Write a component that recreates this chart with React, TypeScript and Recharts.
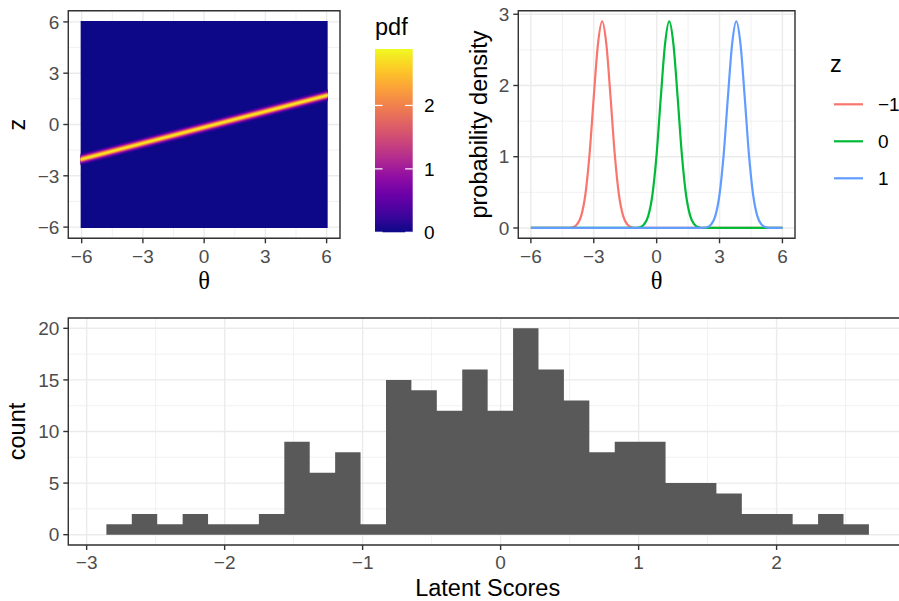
import React from 'react';
import { ComposedChart, Area, Line, XAxis, YAxis, CartesianGrid, ReferenceArea } from 'recharts';

const FONT = '"Liberation Sans", Arial, Helvetica, sans-serif';
const SERIF = '"Liberation Serif", "DejaVu Serif", serif';
const TICK_FS = 19;
const TITLE_FS = 23.5;
const GRID = '#EBEBEB';
const BORDER = '#333333';

// ---------- top left: pdf of z given theta ----------
const heatTicks = [-6, -3, 0, 3, 6];
const heatMinor = [-4.5, -1.5, 1.5, 4.5];
const rasterTheta = [-6.05, 6.05];
const rasterZ = [-6.05, 6.05];
const ridgeZ = [-2.04, 1.71]; // z of the density ridge at both ends of rasterTheta
const pdfBreaks = [0, 1, 2];
const pdfMax = 2.89;
const plasma = ['#0D0887', '#41049D', '#6A00A8', '#8F0DA4', '#B12A90', '#CC4778', '#E16462', '#F2844B', '#FCA636', '#FCCE25', '#F0F921'];

// shading of the ridge, outer to inner: half width in z, colour
const bandLayers = [
  { half: 0.35, color: '#2A0693' },
  { half: 0.28, color: '#5602A3' },
  { half: 0.222, color: '#8F0DA4' },
  { half: 0.18, color: '#BF3984' },
  { half: 0.144, color: '#E16462' },
  { half: 0.109, color: '#F89540' },
  { half: 0.073, color: '#FDC328' },
  { half: 0.04, color: '#F3EA24' },
];

// ---------- top right: density curves ----------
const densTicksX = [-6, -3, 0, 3, 6];
const densMinorX = [-4.5, -1.5, 1.5, 4.5];
const densTicksY = [0, 1, 2, 3];
const densMinorY = [0.5, 1.5, 2.5];
const zLevels = ['\u22121', '0', '1'];
const zColors = ['#F8766D', '#00BA38', '#619CFF'];

const thetaRed = [-6, -4.2, -4.0, -3.8, -3.6, -3.4, -3.2, -3.0, -2.8, -2.6, -2.4, -2.2, -2.0, -1.8, -1.6, -1.4, -1.2, -1.0, 6];
const densRed = [0, 0, 0.01, 0.05, 0.17, 0.47, 1.04, 1.84, 2.58, 2.9, 2.58, 1.84, 1.04, 0.47, 0.17, 0.05, 0.01, 0, 0];
const thetaGreen = [-6, -1.0, -0.8, -0.6, -0.4, -0.2, 0, 0.2, 0.4, 0.6, 0.8, 1.0, 1.2, 1.4, 1.6, 1.8, 2.0, 2.2, 6];
const densGreen = [0, 0, 0.01, 0.05, 0.17, 0.47, 1.04, 1.84, 2.58, 2.9, 2.58, 1.84, 1.04, 0.47, 0.17, 0.05, 0.01, 0, 0];
const thetaBlue = [-6, 2.2, 2.4, 2.6, 2.8, 3.0, 3.2, 3.4, 3.6, 3.8, 4.0, 4.2, 4.4, 4.6, 4.8, 5.0, 5.2, 5.4, 6];
const densBlue = [0, 0, 0.01, 0.05, 0.17, 0.47, 1.04, 1.84, 2.58, 2.9, 2.58, 1.84, 1.04, 0.47, 0.17, 0.05, 0.01, 0, 0];

// ---------- bottom: histogram of latent scores ----------
const histTicksX = [-3, -2, -1, 0, 1, 2];
const histMinorX = [-2.5, -1.5, -0.5, 0.5, 1.5, 2.5];
const histTicksY = [0, 5, 10, 15, 20];
const histMinorY = [2.5, 7.5, 12.5, 17.5];
const histStart = -2.857;
const histBinWidth = 0.1842;
const histCounts = [1, 2, 1, 2, 1, 1, 2, 9, 6, 8, 1, 15, 14, 12, 16, 12, 20, 16, 13, 8, 9, 9, 5, 5, 4, 2, 2, 1, 2, 1];

const fmt = (v: number) => (v < 0 ? `\u2212${Math.abs(v)}` : `${v}`);
const tickStyle = { fill: '#4D4D4D', fontSize: TICK_FS, fontFamily: FONT };
const tickLine = { stroke: BORDER, strokeWidth: 1.4 };

const HeatPanel = () => {
  const raster = rasterTheta.map((t) => ({ theta: t, band: [rasterZ[0], rasterZ[1]] }));
  const layers = bandLayers.map((l) =>
    rasterTheta.map((t, i) => ({ theta: t, band: [ridgeZ[i] - l.half, ridgeZ[i] + l.half] }))
  );
  const dom: [number, number] = [-6.655, 6.655];
  return (
    <ComposedChart width={345} height={300} margin={{ top: 10.7, right: 5, bottom: 11.7, left: 8.3 }}>
      <CartesianGrid stroke={GRID} strokeWidth={0.7} verticalValues={heatMinor} horizontalValues={heatMinor} />
      <CartesianGrid stroke={GRID} strokeWidth={1.4} />
      <XAxis type="number" dataKey="theta" domain={dom} allowDataOverflow ticks={heatTicks} interval={0}
        tickFormatter={fmt} height={50} tickSize={5} tickMargin={6} axisLine={false} tickLine={tickLine} tick={tickStyle} />
      <YAxis type="number" domain={dom} allowDataOverflow ticks={heatTicks} interval={0}
        tickFormatter={fmt} width={60} tickSize={5} tickMargin={4} axisLine={false} tickLine={tickLine} tick={tickStyle} />
      <Area data={raster} dataKey="band" type="linear" stroke="none" fill={plasma[0]} fillOpacity={1}
        isAnimationActive={false} dot={false} activeDot={false} />
      {layers.map((d, i) => (
        <Area key={i} data={d} dataKey="band" type="linear" stroke="none" fill={bandLayers[i].color} fillOpacity={1}
          isAnimationActive={false} dot={false} activeDot={false} />
      ))}
      <ReferenceArea x1={dom[0]} x2={dom[1]} y1={dom[0]} y2={dom[1]} fill="none" stroke={BORDER} strokeWidth={1.4} ifOverflow="visible" />
    </ComposedChart>
  );
};

const DensityPanel = () => {
  const series = [
    { t: thetaRed, d: densRed },
    { t: thetaGreen, d: densGreen },
    { t: thetaBlue, d: densBlue },
  ];
  return (
    <ComposedChart width={449} height={300} margin={{ top: 10.7, right: 104, bottom: 11.7, left: 8.3 }}>
      <CartesianGrid stroke={GRID} strokeWidth={0.7} verticalValues={densMinorX} horizontalValues={densMinorY} />
      <CartesianGrid stroke={GRID} strokeWidth={1.4} />
      <XAxis type="number" dataKey="theta" domain={[-6.6, 6.6]} allowDataOverflow ticks={densTicksX} interval={0}
        tickFormatter={fmt} height={50} tickSize={5} tickMargin={6} axisLine={false} tickLine={tickLine} tick={tickStyle} />
      <YAxis type="number" domain={[-0.145, 3.05]} allowDataOverflow ticks={densTicksY} interval={0}
        tickFormatter={fmt} width={60} tickSize={5} tickMargin={4} axisLine={false} tickLine={tickLine} tick={tickStyle} />
      {series.map((s, i) => (
        <Line key={i} data={s.t.map((t, j) => ({ theta: t, density: s.d[j] }))} dataKey="density" type="monotone"
          stroke={zColors[i]} strokeWidth={2.2} dot={false} activeDot={false} isAnimationActive={false} />
      ))}
      <ReferenceArea x1={-6.6} x2={6.6} y1={-0.145} y2={3.05} fill="none" stroke={BORDER} strokeWidth={1.4} ifOverflow="visible" />
    </ComposedChart>
  );
};

const HistPanel = () => {
  const data = histCounts.map((c, i) => ({ x: histStart + i * histBinWidth, count: c }));
  data.push({ x: histStart + histCounts.length * histBinWidth, count: histCounts[histCounts.length - 1] });
  return (
    <ComposedChart width={920} height={301} margin={{ top: 18, right: 13, bottom: 6, left: 8.3 }}>
      <CartesianGrid stroke={GRID} strokeWidth={0.7} verticalValues={histMinorX} horizontalValues={histMinorY} />
      <CartesianGrid stroke={GRID} strokeWidth={1.4} />
      <XAxis type="number" dataKey="x" domain={[-3.133, 2.945]} allowDataOverflow ticks={histTicksX} interval={0}
        tickFormatter={fmt} height={50} tickSize={5} tickMargin={6} axisLine={false} tickLine={tickLine} tick={tickStyle} />
      <YAxis type="number" domain={[-1, 21]} allowDataOverflow ticks={histTicksY} interval={0}
        tickFormatter={fmt} width={60} tickSize={5} tickMargin={4} axisLine={false} tickLine={tickLine} tick={tickStyle} />
      <Area data={data} dataKey="count" type="stepAfter" baseValue={0} stroke="none" fill="#595959" fillOpacity={1}
        isAnimationActive={false} dot={false} activeDot={false} />
      <ReferenceArea x1={-3.133} x2={2.945} y1={-1} y2={21} fill="none" stroke={BORDER} strokeWidth={1.4} ifOverflow="visible" />
    </ComposedChart>
  );
};

// titles and the two legends
const Overlay = () => {
  const barX = 375;
  const barW = 37.7;
  const barTop = 49;
  const barBottom = 232.3;
  const yOf = (v: number) => barBottom - (v / pdfMax) * (barBottom - barTop);
  const title = { fontFamily: FONT, fontSize: TITLE_FS, fill: '#000' };
  const legendText = { fontFamily: FONT, fontSize: TICK_FS, fill: '#000' };
  return (
    <svg width={899} height={601} style={{ position: 'absolute', left: 0, top: 0, pointerEvents: 'none' }}>
      <defs>
        <linearGradient id="plasmaBar" x1="0" y1="1" x2="0" y2="0">
          {plasma.map((c, i) => (
            <stop key={i} offset={`${(i / (plasma.length - 1)) * 100}%`} stopColor={c} />
          ))}
        </linearGradient>
      </defs>
      {/* heatmap */}
      <text transform="translate(25,124.5) rotate(-90)" textAnchor="middle" {...title}>z</text>
      <text x={204.2} y={289} textAnchor="middle" fontFamily={SERIF} fontSize={TITLE_FS + 1}>θ</text>
      <text x={barX} y={35} {...title}>pdf</text>
      <rect x={barX} y={barTop} width={barW} height={barBottom - barTop} fill="url(#plasmaBar)" />
      {pdfBreaks.map((b) => (
        <g key={b}>
          <line x1={barX} x2={barX + barW * 0.2} y1={yOf(b)} y2={yOf(b)} stroke="#fff" strokeWidth={1.2} />
          <line x1={barX + barW * 0.8} x2={barX + barW} y1={yOf(b)} y2={yOf(b)} stroke="#fff" strokeWidth={1.2} />
          <text x={424} y={yOf(b)} dy="0.355em" {...legendText}>{b}</text>
        </g>
      ))}
      {/* density curves */}
      <text transform="translate(487,124.5) rotate(-90)" textAnchor="middle" {...title}>probability density</text>
      <text x={656.7} y={289} textAnchor="middle" fontFamily={SERIF} fontSize={TITLE_FS + 1}>θ</text>
      <text x={830} y={72} {...title}>z</text>
      {zLevels.map((lab, i) => {
        const y = 104.3 + i * 37;
        return (
          <g key={lab}>
            <line x1={834} x2={863} y1={y} y2={y} stroke={zColors[i]} strokeWidth={2.2} />
            <text x={878} y={y} dy="0.355em" {...legendText}>{lab}</text>
          </g>
        );
      })}
      {/* histogram */}
      <text transform="translate(25,431.5) rotate(-90)" textAnchor="middle" {...title}>count</text>
      <text x={487.7} y={596} textAnchor="middle" {...title}>Latent Scores</text>
    </svg>
  );
};

export default function App() {
  return (
    <div style={{ position: 'absolute', left: 0, top: 0, width: 899, height: 601, overflow: 'hidden', background: '#fff' }}>
      <div style={{ position: 'absolute', left: 0, top: 0 }}><HeatPanel /></div>
      <div style={{ position: 'absolute', left: 450, top: 0 }}><DensityPanel /></div>
      <div style={{ position: 'absolute', left: 0, top: 300 }}><HistPanel /></div>
      <Overlay />
    </div>
  );
}
